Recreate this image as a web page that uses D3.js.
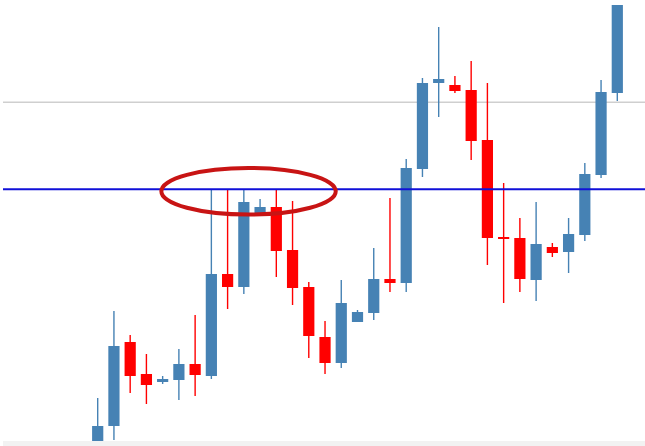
<!DOCTYPE html>
<html>
<head>
<meta charset="utf-8">
<script src="https://cdn.jsdelivr.net/npm/d3@7"></script>
<style>
  body { margin: 0; background: #fff; }
  svg { display: block; }
</style>
</head>
<body>
<svg id="chart" width="645" height="446"></svg>
<script>
// candle data (one bar per session)
var days  = d3.range(33);
var open  = [1.3005,1.3020,1.3104,1.3072,1.3064,1.3066,1.3082,1.3070,1.3172,1.3159,1.3233,
             1.3239,1.3196,1.3159,1.3109,1.3083,1.3124,1.3133,1.3167,1.3163,1.3277,1.3363,
             1.3361,1.3356,1.3306,1.3209,1.3208,1.3166,1.3199,1.3194,1.3211,1.3271,1.3353];
var high  = [1.3048,1.3135,1.3111,1.3092,1.3070,1.3097,1.3131,1.3257,1.3257,1.3256,1.3247,
             1.3257,1.3245,1.3164,1.3125,1.3166,1.3136,1.3198,1.3248,1.3287,1.3368,1.3419,
             1.3370,1.3385,1.3363,1.3263,1.3228,1.3244,1.3203,1.3228,1.3283,1.3366,1.3441];
var low   = [1.3003,1.3006,1.3053,1.3042,1.3062,1.3046,1.3050,1.3067,1.3137,1.3152,1.3233,
             1.3169,1.3141,1.3088,1.3072,1.3078,1.3124,1.3126,1.3154,1.3154,1.3269,1.3329,
             1.3353,1.3286,1.3181,1.3143,1.3154,1.3145,1.3189,1.3173,1.3205,1.3268,1.3345];
var close = [1.3020,1.3100,1.3070,1.3061,1.3067,1.3082,1.3071,1.3172,1.3159,1.3244,1.3239,
             1.3195,1.3158,1.3110,1.3083,1.3143,1.3134,1.3167,1.3163,1.3278,1.3363,1.3367,
             1.3355,1.3305,1.3208,1.3207,1.3167,1.3202,1.3193,1.3212,1.3272,1.3354,1.3441];

var resistance = 1.32567;   // blue line
var upperLevel = 1.33437;   // grey line
// zone circled on the chart (bars and price span)
var zoneBars  = [3.92, 14.66];
var zonePrice = [1.32314, 1.32780];

var W = 645, H = 446;
var svg = d3.select("#chart");

var x = d3.scaleLinear().domain([0, 32]).range([97.7, 617.3]);
var y = d3.scaleLinear().domain([1.3000, 1.3446]).range([446, 0]);
var step = x(1) - x(0);
var bw = step * 0.69;

var up = "#4682b4", down = "#ff0000";

// horizontal levels
svg.append("line")
    .attr("x1", 3).attr("x2", W)
    .attr("y1", y(upperLevel)).attr("y2", y(upperLevel))
    .attr("stroke", "#cfcfcf").attr("stroke-width", 1.5);

var candles = svg.append("g");
var g = candles.selectAll("g").data(days).enter().append("g");

g.append("line")
    .attr("x1", d => x(d)).attr("x2", d => x(d))
    .attr("y1", d => y(high[d])).attr("y2", d => y(low[d]))
    .attr("stroke", d => close[d] >= open[d] ? up : down)
    .attr("stroke-width", 1.4);

g.append("rect")
    .attr("x", d => x(d) - bw / 2)
    .attr("width", bw)
    .attr("y", d => y(Math.max(open[d], close[d])))
    .attr("height", d => Math.max(2, Math.abs(y(open[d]) - y(close[d]))))
    .attr("fill", d => close[d] >= open[d] ? up : down);

svg.append("line")
    .attr("x1", 3).attr("x2", W)
    .attr("y1", y(resistance)).attr("y2", y(resistance))
    .attr("stroke", "#1010d8").attr("stroke-width", 2);

// highlight ellipse
svg.append("ellipse")
    .attr("cx", (x(zoneBars[0]) + x(zoneBars[1])) / 2)
    .attr("cy", (y(zonePrice[0]) + y(zonePrice[1])) / 2)
    .attr("rx", (x(zoneBars[1]) - x(zoneBars[0])) / 2)
    .attr("ry", (y(zonePrice[0]) - y(zonePrice[1])) / 2)
    .attr("fill", "none")
    .attr("stroke", "#c81414")
    .attr("stroke-width", 4);

// bottom strip
svg.append("rect")
    .attr("x", 3).attr("y", 441)
    .attr("width", W - 3).attr("height", 5)
    .attr("fill", "#f2f2f2");
</script>
</body>
</html>
